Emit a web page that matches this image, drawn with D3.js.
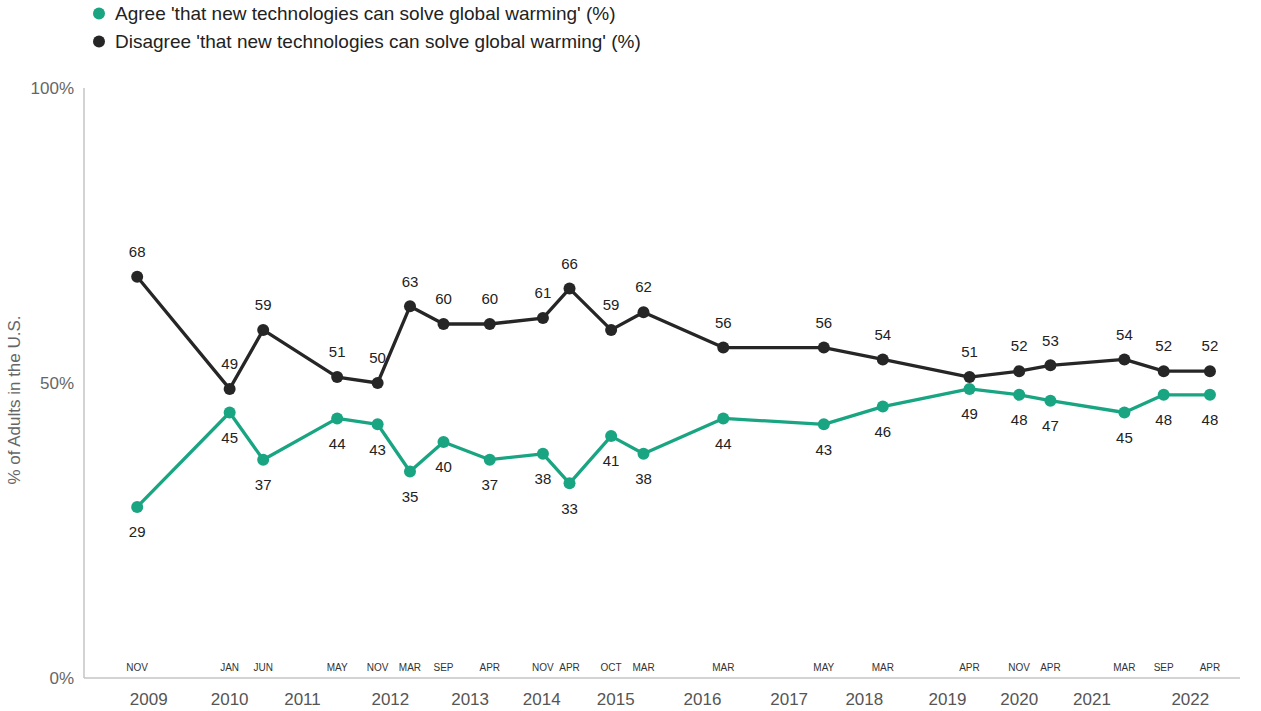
<!DOCTYPE html>
<html>
<head>
<meta charset="utf-8">
<script src="https://cdn.jsdelivr.net/npm/d3@7"></script>
<style>
  html, body { margin: 0; padding: 0; background: #fff; }
  svg { display: block; font-family: "Liberation Sans", Arial, sans-serif; }
</style>
</head>
<body>
<div id="chart"></div>
<script>
// --- DATA ---
// survey months, in order
const surveyMonths = ['NOV', 'JAN', 'JUN', 'MAY', 'NOV', 'MAR', 'SEP', 'APR', 'NOV', 'APR', 'OCT',
    'MAR', 'MAR', 'MAY', 'MAR', 'APR', 'NOV', 'APR', 'MAR', 'SEP', 'APR'];
// where each survey sits along the timeline (0 = left edge of axis, 100 = right edge)
const surveyPos = [4.6, 12.6, 15.5, 21.9, 25.4, 28.2, 31.1, 35.1, 39.7, 42.0, 45.6,
    48.4, 55.3, 64.0, 69.1, 76.6, 80.9, 83.6, 90.0, 93.4, 97.4];
const agreeValues = [29, 45, 37, 44, 43, 35, 40, 37, 38, 33, 41,
    38, 44, 43, 46, 49, 48, 47, 45, 48, 48];
const disagreeValues = [68, 49, 59, 51, 50, 63, 60, 60, 61, 66, 59,
    62, 56, 56, 54, 51, 52, 53, 54, 52, 52];

const yearLabels = ['2009', '2010', '2011', '2012', '2013', '2014', '2015',
    '2016', '2017', '2018', '2019', '2020', '2021', '2022'];
const yearPos = [5.6, 12.6, 18.9, 26.5, 33.4, 39.6, 46.0, 53.5, 61.0, 67.5, 74.7, 80.9, 87.2, 95.7];

const yTicks = [0, 50, 100];

const seriesNames = [
    "Agree 'that new technologies can solve global warming' (%)",
    "Disagree 'that new technologies can solve global warming' (%)"
];

const GREEN = '#19a582';
const BLACK = '#262626';

// --- CHART ---
const W = 1261, H = 711;
const margin = {top: 88, right: 21, bottom: 33, left: 84};

const svg = d3.select('#chart').append('svg')
    .attr('width', W)
    .attr('height', H);

svg.append('rect').attr('width', W).attr('height', H).attr('fill', '#fff');

const x = d3.scaleLinear().domain([0, 100]).range([margin.left, W - margin.right]);
const y = d3.scaleLinear().domain([0, 100]).range([H - margin.bottom, margin.top]);

// axes (plain lines, no ticks)
svg.append('line')
    .attr('x1', x(0)).attr('x2', x(0))
    .attr('y1', y(100)).attr('y2', y(0))
    .attr('stroke', '#c4c4c4').attr('stroke-width', 1.5);
svg.append('line')
    .attr('x1', x(0)).attr('x2', x(100))
    .attr('y1', y(0)).attr('y2', y(0))
    .attr('stroke', '#c4c4c4').attr('stroke-width', 1.5);

// y tick labels
svg.selectAll('.ytick')
    .data(yTicks)
    .join('text')
    .attr('class', 'ytick')
    .attr('x', x(0) - 10)
    .attr('y', d => y(d))
    .attr('dy', '0.35em')
    .attr('text-anchor', 'end')
    .attr('fill', '#666')
    .style('font-size', '17px')
    .text(d => d + '%');

// y axis title
svg.append('text')
    .attr('transform', 'translate(20,400) rotate(-90)')
    .attr('text-anchor', 'middle')
    .attr('fill', '#666')
    .style('font-size', '17px')
    .text('% of Adults in the U.S.');

// month labels just above the x axis
svg.selectAll('.month')
    .data(surveyMonths)
    .join('text')
    .attr('class', 'month')
    .attr('x', (d, i) => x(surveyPos[i]))
    .attr('y', y(0) - 11)
    .attr('dy', '0.35em')
    .attr('text-anchor', 'middle')
    .attr('fill', '#333')
    .style('font-size', '10px')
    .text(d => d);

// year labels below the axis
svg.selectAll('.year')
    .data(yearLabels)
    .join('text')
    .attr('class', 'year')
    .attr('x', (d, i) => x(yearPos[i]))
    .attr('y', y(0) + 21)
    .attr('dy', '0.35em')
    .attr('text-anchor', 'middle')
    .attr('fill', '#555')
    .style('font-size', '17px')
    .text(d => d);

// --- SERIES ---
const series = [
    {values: disagreeValues, color: BLACK, labelDy: -25},
    {values: agreeValues, color: GREEN, labelDy: 25}
];

const line = d3.line()
    .x((d, i) => x(surveyPos[i]))
    .y(d => y(d));

series.forEach(s => {
    const g = svg.append('g');
    g.append('path')
        .datum(s.values)
        .attr('fill', 'none')
        .attr('stroke', s.color)
        .attr('stroke-width', 3.3)
        .attr('stroke-linejoin', 'round')
        .attr('d', line);

    g.selectAll('circle')
        .data(s.values)
        .join('circle')
        .attr('cx', (d, i) => x(surveyPos[i]))
        .attr('cy', d => y(d))
        .attr('r', 6)
        .attr('fill', s.color);

    g.selectAll('text')
        .data(s.values)
        .join('text')
        .attr('x', (d, i) => x(surveyPos[i]))
        .attr('y', d => y(d) + s.labelDy)
        .attr('dy', '0.35em')
        .attr('text-anchor', 'middle')
        .attr('fill', '#222')
        .style('font-size', '15px')
        .text(d => d);
});

// --- LEGEND ---
const legend = svg.append('g');
[GREEN, BLACK].forEach((c, i) => {
    legend.append('circle')
        .attr('cx', 99)
        .attr('cy', 13.5 + i * 28)
        .attr('r', 6)
        .attr('fill', c);
    legend.append('text')
        .attr('x', 115)
        .attr('y', 13.5 + i * 28)
        .attr('dy', '0.35em')
        .attr('fill', '#222')
        .style('font-size', '19px')
        .text(seriesNames[i]);
});
</script>
</body>
</html>
